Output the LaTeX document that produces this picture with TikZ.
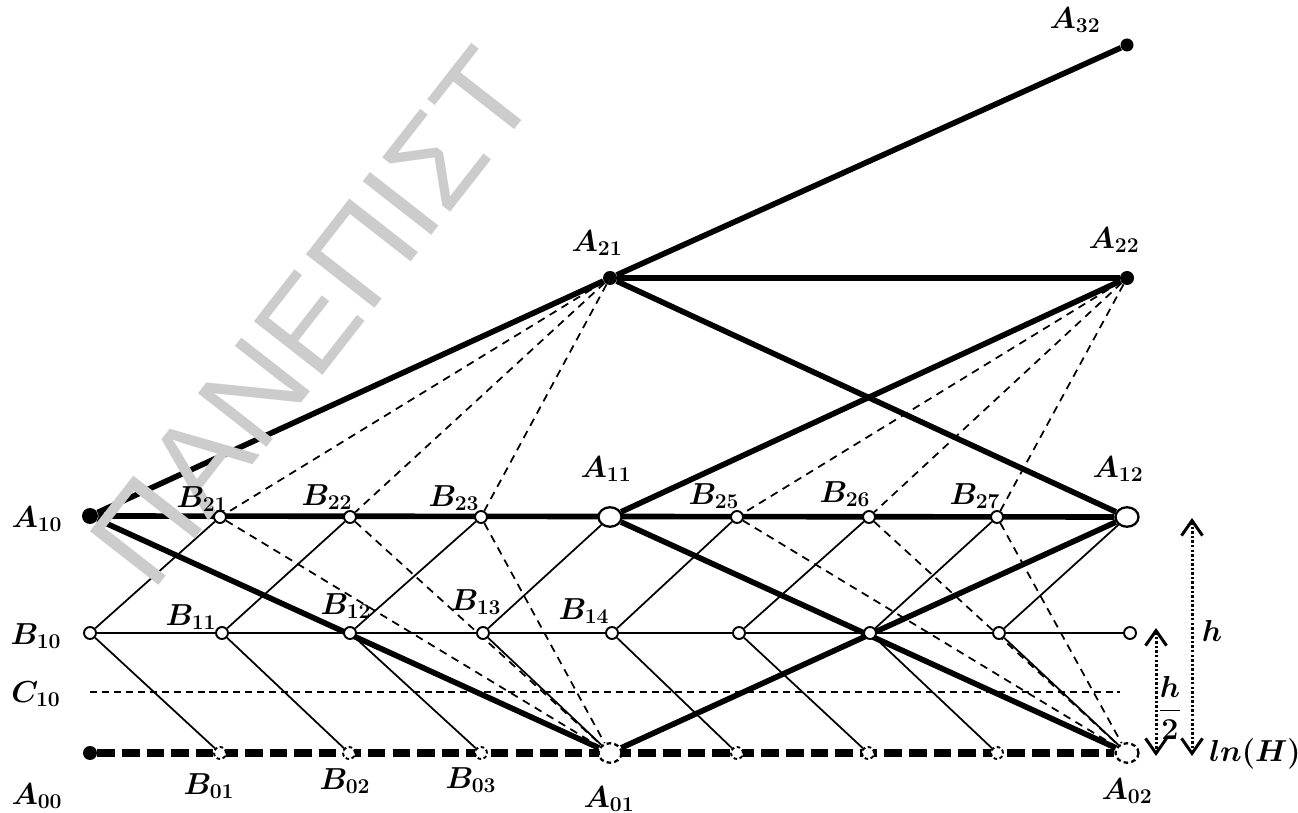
\documentclass[tikz,border=0pt]{standalone}
\usepackage{amsmath}
\usepackage{bm}
\usepackage{fontspec}
\newfontfamily\wmfont{Liberation Sans}
\usepackage{tikz}
\usetikzlibrary{arrows.meta, shapes.geometric, backgrounds}

\begin{document}
\begin{tikzpicture}[x=0.02cm, y=-0.02cm,
    dot/.style={circle, fill=black, inner sep=0pt, minimum size=0.28cm},
    pt/.style={circle, draw, fill=white, line width=1.1pt, inner sep=0pt, minimum size=0.24cm},
    bigpt/.style={ellipse, draw, fill=white, line width=1.3pt, inner sep=0pt,
        minimum width=0.46cm, minimum height=0.39cm},
    gpt/.style={pt, dash pattern=on 2pt off 1.5pt},
    gbigpt/.style={bigpt, dash pattern=on 2.6pt off 1.8pt},
    lab/.style={font=\fontsize{18}{21}\selectfont, inner sep=0pt},
    heavy/.style={line width=3.2pt},
    light/.style={line width=1pt},
    dline/.style={line width=1pt, dash pattern=on 4.5pt off 3.4pt},
    >={Straight Barb[length=0.3cm, width=0.42cm]}]

\useasboundingbox (0,0) rectangle (1298,813);

% Watermark
\node[font=\wmfont\fontsize{72}{76}\selectfont, text=black!20, rotate=52,
    anchor=base west, inner sep=0pt] (wmark) at (152,594) {ΠΑΝΕΠΙΣΤ};

% Top nodes
\node[dot] (A21) at (610,278) {};
\node[dot] (A22) at (1127,278) {};
\node[dot, minimum size=0.26cm] (A32) at (1127,45) {};

% Row 2
\node[dot, minimum size=0.32cm] (A10) at (90,516) {};
\node[pt] (B21) at (220,517) {};
\node[pt] (B22) at (350,517) {};
\node[pt] (B23) at (481,517) {};
\node[bigpt] (A11) at (610,517) {};
\node[pt] (B25) at (737,517) {};
\node[pt] (B26) at (869,517) {};
\node[pt] (B27) at (997,517) {};
\node[bigpt] (A12) at (1127,517) {};

% Row 1
\node[pt] (B10) at (90,633) {};
\node[pt] (B11) at (222,633) {};
\node[pt] (B12) at (350,633) {};
\node[pt] (B13) at (483,633) {};
\node[pt] (B14) at (612,633) {};
\node[pt] (B15) at (739,633) {};
\node[pt] (B16) at (870,633) {};
\node[pt] (B17) at (999,633) {};
\node[pt] (B18) at (1130,633) {};

% Row 0
\node[dot] (A00) at (90,753) {};
\node[gpt] (B01) at (220,753) {};
\node[gpt] (B02) at (349,753) {};
\node[gpt] (B03) at (481,753) {};
\node[gbigpt] (A01) at (610,753) {};
\node[gpt] (B05) at (737,753) {};
\node[gpt] (B06) at (868,753) {};
\node[gpt] (B07) at (997,753) {};
\node[gbigpt] (A02) at (1127,753) {};

% Level C10
\coordinate (C10a) at (90,692);
\coordinate (C10b) at (1120,692);

% Heights
\coordinate (hTop) at (1192,518);
\coordinate (hBot) at (1192,756);
\coordinate (hhTop) at (1156,628);
\coordinate (hhBot) at (1156,756);

\begin{scope}[on background layer]
% Thick paths
\draw[heavy] (A10) -- (A21) -- (A32);
\draw[heavy] (A21) -- (A22);
\draw[heavy] (A21) -- (A12);
\draw[heavy] (A10) -- (A12);
\draw[heavy] (A10) -- (A01);
\draw[heavy] (A11) -- (A22);
\draw[heavy] (A11) -- (A02);
\draw[heavy] (A01) -- (A12);

% Thin lattice
\draw[light] (B10) -- (B18);
\draw[light] (B10) -- (B21) (B11) -- (B22) (B12) -- (B23) (B13) -- (A11)
    (B14) -- (B25) (B15) -- (B26) (B16) -- (B27) (B17) -- (A12);
\draw[light] (B10) -- (B01) (B11) -- (B02) (B12) -- (B03) (B13) -- (A01)
    (B14) -- (B05) (B15) -- (B06) (B16) -- (B07) (B17) -- (A02);

% Dashed fans
\draw[dline] (A21) -- (B21) (A21) -- (B22) (A21) -- (B23);
\draw[dline] (B21) -- (A01) (B22) -- (A01) (B23) -- (A01);
\draw[dline] (A22) -- (B25) (A22) -- (B26) (A22) -- (B27);
\draw[dline] (B25) -- (A02) (B26) -- (A02) (B27) -- (A02);

% C10 level and ground
\draw[line width=0.9pt, dash pattern=on 4pt off 2.8pt] (C10a) -- (C10b);
\draw[line width=4pt, dash pattern=on 10pt off 4pt] (A00) -- (A02);
\end{scope}

% Height arrows
\draw[<->, line width=1.7pt, dash pattern=on 1.4pt off 1.2pt] (hTop) -- (hBot);
\draw[<->, line width=1.7pt, dash pattern=on 1.4pt off 1.2pt] (hhTop) -- (hhBot);

% Labels
\node[lab] (lA32) at (1075,20) {$\bm{A_{32}}$};
\node[lab] (lA21) at (597,243) {$\bm{A_{21}}$};
\node[lab] (lA22) at (1114,240) {$\bm{A_{22}}$};
\node[lab] (lA10) at (37,519) {$\bm{A_{10}}$};
\node[lab] (lB21) at (202,499) {$\bm{B_{21}}$};
\node[lab] (lB22) at (327,497) {$\bm{B_{22}}$};
\node[lab] (lB23) at (454,498) {$\bm{B_{23}}$};
\node[lab] (lA11) at (606,469) {$\bm{A_{11}}$};
\node[lab] (lB25) at (714,496) {$\bm{B_{25}}$};
\node[lab] (lB26) at (845,494) {$\bm{B_{26}}$};
\node[lab] (lB27) at (975,496) {$\bm{B_{27}}$};
\node[lab] (lA12) at (1118,469) {$\bm{A_{12}}$};
\node[lab] (lB10) at (36,636) {$\bm{B_{10}}$};
\node[lab] (lB11) at (191,617) {$\bm{B_{11}}$};
\node[lab] (lB12) at (346,606) {$\bm{B_{12}}$};
\node[lab] (lB13) at (476,602) {$\bm{B_{13}}$};
\node[lab] (lB14) at (584,611) {$\bm{B_{14}}$};
\node[lab] (lC10) at (36,694) {$\bm{C_{10}}$};
\node[lab] (lA00) at (37,796) {$\bm{A_{00}}$};
\node[lab] (lB01) at (209,786) {$\bm{B_{01}}$};
\node[lab] (lB02) at (345,781) {$\bm{B_{02}}$};
\node[lab] (lB03) at (471,780) {$\bm{B_{03}}$};
\node[lab] (lA01) at (609,799) {$\bm{A_{01}}$};
\node[lab] (lA02) at (1127,791) {$\bm{A_{02}}$};
\node[lab] (lh) at (1212,631) {$\bm{h}$};
\node[lab] (lhh) at (1170,708) {$\dfrac{\bm{h}}{\bm{2}}$};
\node[lab, font=\fontsize{16}{19}\selectfont] (lH) at (1255,754) {$\bm{ln(H)}$};

\end{tikzpicture}
\end{document}
